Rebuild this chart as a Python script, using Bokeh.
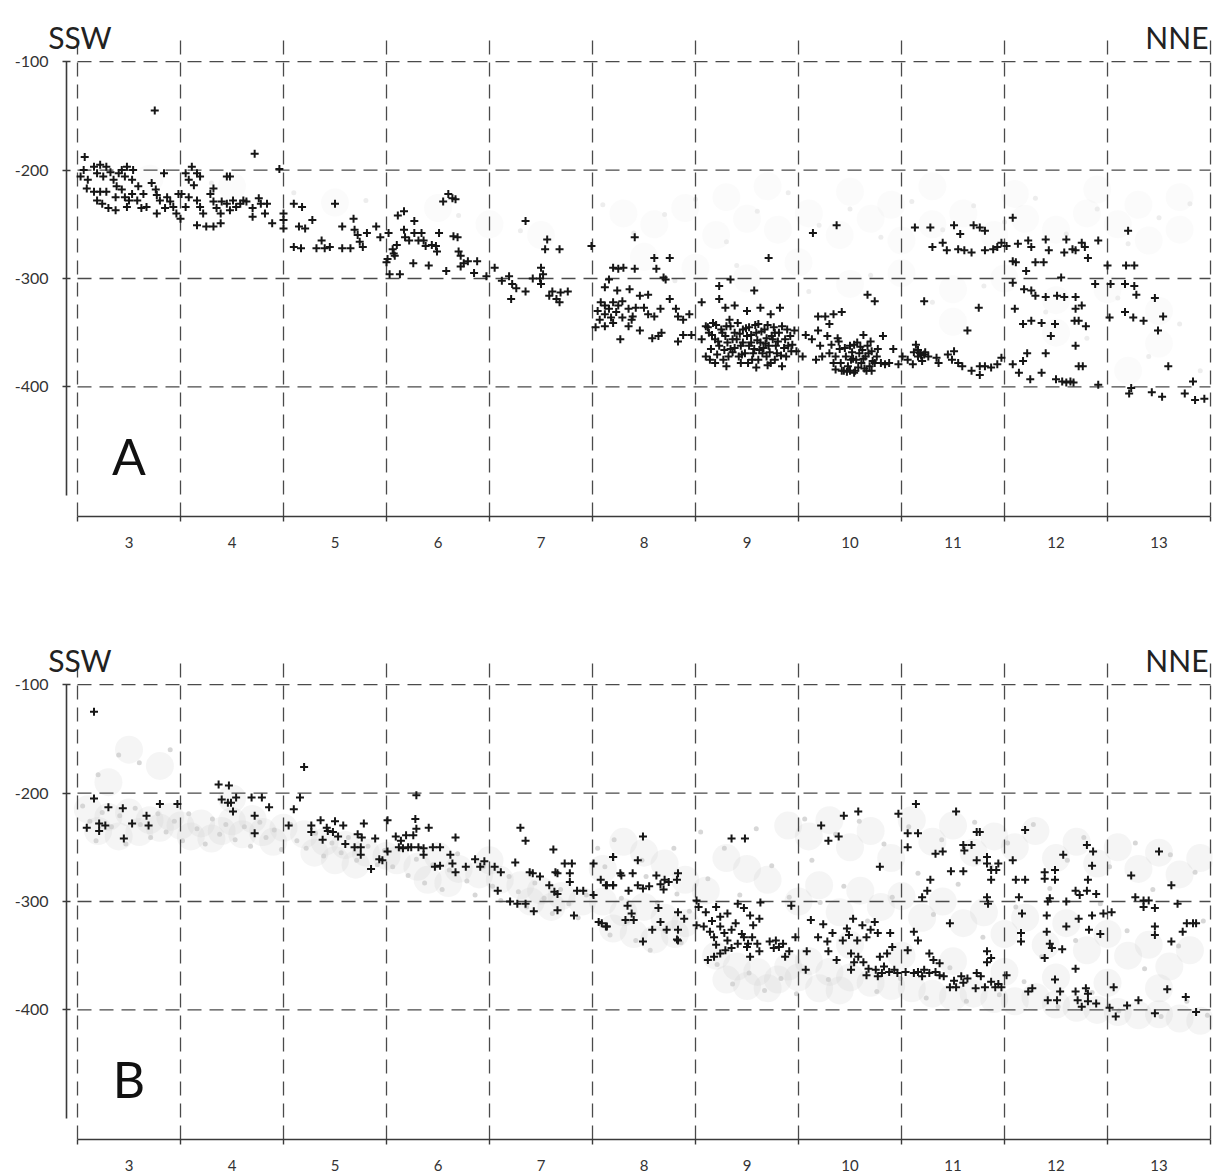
from bokeh.plotting import figure
from bokeh.models import Range1d, FixedTicker, Label
from bokeh.layouts import column
from bokeh.embed import file_html
from bokeh.resources import INLINE

# ---------------- data ----------------
categories = [3, 4, 5, 6, 7, 8, 9, 10, 11, 12, 13]
cat_bounds = [2.5, 3.5, 4.5, 5.5, 6.5, 7.5, 8.5, 9.5, 10.5, 11.5, 12.5, 13.5]
y_ticks = [-100, -200, -300, -400]
y_tick_labels = ["-100", "-200", "-300", "-400"]
panel_letters = ["A", "B"]
left_dir, right_dir = "SSW", "NNE"

# Panel A, black crosses (x position, depth)
pts_a = [
    (3.25, -145), (4.22, -185), (4.46, -199),
    (2.57, -188), (2.53, -206), (2.60, -209), (2.56, -200), (2.66, -197), (2.69, -203), (2.72, -195),
    (2.75, -206), (2.78, -197), (2.82, -202), (2.85, -209), (2.90, -203), (2.93, -200), (2.98, -197),
    (2.96, -206), (3.03, -209), (3.04, -200), (2.59, -217), (2.66, -220), (2.72, -220), (2.78, -220),
    (2.69, -228), (2.74, -231), (2.80, -235), (2.87, -225), (2.88, -215), (2.93, -218), (2.96, -225),
    (3.00, -228), (3.03, -222), (3.08, -228), (3.09, -215), (3.14, -222), (3.17, -234), (3.22, -212),
    (3.26, -218), (3.27, -223), (3.30, -228), (3.34, -203), (3.35, -235), (3.37, -225), (3.40, -229),
    (3.43, -234), (3.46, -240), (3.48, -222), (3.50, -245), (2.87, -237), (3.12, -235), (3.27, -240),
    (2.98, -234),
    (3.55, -203), (3.61, -197), (3.66, -203), (3.69, -206), (3.58, -209), (3.51, -222), (3.58, -225),
    (3.63, -214), (3.66, -228), (3.69, -234), (3.66, -251), (3.75, -252), (3.72, -240), (3.79, -222),
    (3.82, -229), (3.85, -235), (3.89, -240), (3.89, -249), (3.82, -217), (3.90, -229), (3.95, -206),
    (3.98, -206), (3.95, -231), (3.98, -237), (4.01, -228), (4.04, -234), (4.08, -231), (4.11, -228),
    (4.14, -229), (4.20, -235), (4.26, -226), (4.28, -231), (4.32, -240), (4.34, -231), (4.39, -249),
    (4.20, -243), (4.50, -240), (4.50, -246), (4.50, -254), (3.82, -252), (3.55, -234),
    (4.60, -231), (4.68, -234), (4.65, -252), (4.71, -254), (4.78, -246), (4.60, -271), (4.67, -272),
    (4.82, -272), (4.87, -265), (4.90, -272), (4.95, -271), (5.00, -231), (5.07, -252), (5.07, -272),
    (5.15, -272), (5.18, -245), (5.19, -255), (5.22, -260), (5.24, -266), (5.27, -271), (5.31, -258),
    (5.40, -252), (5.44, -262), (5.52, -258), (5.50, -285), (5.57, -277), (5.60, -269),
    (5.51, -282), (5.56, -273), (5.58, -279), (5.61, -242), (5.67, -238), (5.67, -255), (5.68, -262),
    (5.77, -247), (5.77, -258), (5.72, -265), (5.76, -286), (5.81, -265), (5.84, -258), (5.86, -265),
    (5.88, -270), (5.91, -288), (5.94, -269), (5.98, -270), (6.01, -258), (5.99, -275), (6.05, -229),
    (6.10, -222), (6.14, -226), (6.17, -227), (6.08, -293), (6.15, -261), (6.19, -262), (6.20, -275),
    (6.22, -279), (6.22, -289), (6.25, -286), (6.29, -284), (6.38, -284), (6.35, -295), (6.47, -298),
    (5.53, -296), (5.63, -296),
    (6.55, -290), (6.62, -302), (6.69, -298), (6.72, -305), (6.71, -319), (6.76, -309), (6.85, -312),
    (6.85, -247), (6.92, -300), (6.99, -300), (7.00, -290), (7.02, -296), (7.06, -264), (7.04, -273),
    (7.00, -305), (7.08, -316), (7.11, -312), (7.15, -319), (7.18, -273), (7.18, -322), (7.19, -313),
    (7.26, -312), (7.49, -270),
    (7.91, -262), (7.70, -290), (7.75, -291), (7.80, -290), (7.91, -291), (8.10, -281), (8.25, -281),
    (8.12, -291), (8.19, -299), (8.21, -301), (7.66, -301), (7.62, -308), (7.74, -311), (7.86, -310),
    (7.96, -316), (8.04, -315), (7.58, -322), (7.62, -325), (7.66, -328), (7.70, -322), (7.75, -325),
    (7.79, -321), (7.85, -328), (7.89, -335), (7.92, -327), (8.00, -327), (8.04, -333), (8.10, -335),
    (8.16, -328), (8.25, -319), (8.31, -328), (8.33, -335), (8.38, -338), (8.44, -333), (7.62, -344),
    (7.70, -341), (7.77, -356), (7.85, -344), (7.96, -348), (8.08, -355), (8.14, -353), (8.17, -350),
    (8.33, -358), (8.38, -352), (8.46, -352), (7.62, -333), (7.68, -336), (7.73, -331), (7.79, -336),
    (7.88, -338), (7.55, -330), (7.57, -338), (7.53, -345),
    (8.56, -322), (8.73, -307), (8.84, -301), (8.73, -319), (8.79, -327), (8.88, -325), (9.00, -330),
    (9.07, -311), (9.13, -327), (9.23, -333), (9.32, -327), (9.21, -281), (8.60, -344), (8.63, -350),
    (8.67, -341), (8.69, -356), (8.73, -362), (8.75, -347), (8.79, -353), (8.81, -359), (8.83, -338),
    (8.84, -365), (8.88, -350), (8.90, -356), (8.94, -362), (8.96, -347), (8.98, -369), (9.00, -353),
    (9.04, -359), (9.05, -375), (9.07, -365), (9.09, -350), (9.11, -342), (9.13, -359), (9.15, -369),
    (9.17, -347), (9.19, -355), (9.21, -362), (9.23, -378), (9.27, -350), (9.29, -369), (9.30, -358),
    (9.34, -344), (9.36, -364), (9.38, -372), (9.42, -353), (9.44, -361), (9.46, -348), (9.48, -367),
    (8.60, -372), (8.69, -378), (8.77, -375), (8.92, -372), (9.01, -378), (9.11, -375), (9.19, -372),
    (8.65, -365), (8.56, -356), (8.84, -344), (8.96, -359), (9.27, -375), (9.34, -381), (8.86, -368),
    (9.02, -345), (9.16, -364), (9.40, -362), (8.71, -370), (8.94, -378), (9.25, -356),
    (8.62, -345), (8.66, -352), (8.70, -343), (8.72, -358), (8.76, -350), (8.78, -366), (8.80, -344),
    (8.82, -372), (8.86, -356), (8.88, -364), (8.91, -341), (8.93, -351), (8.95, -370), (8.99, -346),
    (9.02, -362), (9.04, -352), (9.06, -369), (9.08, -343), (9.10, -357), (9.12, -366), (9.14, -349),
    (9.18, -360), (9.20, -343), (9.22, -368), (9.24, -353), (9.26, -345), (9.28, -362), (9.31, -350),
    (9.33, -371), (9.37, -356), (9.39, -347), (9.43, -367), (8.64, -375), (8.80, -381), (9.09, -382),
    (9.20, -380),
    (9.64, -258), (9.87, -251), (9.69, -335), (9.76, -335), (9.84, -333), (9.92, -331), (9.80, -342),
    (10.17, -315), (10.24, -321), (9.57, -352), (9.63, -356), (9.69, -348), (9.71, -362), (9.73, -372),
    (9.78, -353), (9.80, -369), (9.84, -378), (9.88, -355), (9.90, -365), (9.92, -385), (9.96, -372),
    (9.98, -381), (10.00, -362), (10.03, -374), (10.05, -385), (10.07, -359), (10.09, -369),
    (10.11, -378), (10.13, -352), (10.15, -372), (10.17, -362), (10.19, -381), (10.21, -367),
    (10.22, -376), (10.26, -372), (10.30, -378), (10.32, -353), (10.34, -379), (10.38, -378),
    (10.42, -365), (10.47, -379), (9.94, -385), (10.00, -385), (9.86, -384), (9.67, -375), (9.54, -372),
    (10.06, -375), (10.12, -366), (10.02, -368), (10.14, -383),
    (9.82, -361), (9.86, -372), (9.89, -358), (9.91, -378), (9.95, -364), (9.97, -386), (10.01, -375),
    (10.04, -361), (10.08, -382), (10.10, -363), (10.13, -374), (10.16, -385), (10.18, -369),
    (10.20, -358), (10.24, -378), (10.27, -365), (10.04, -387), (10.21, -385),
    (10.62, -368), (10.66, -366), (10.69, -371), (10.73, -368), (10.70, -376),
    (10.63, -253), (10.78, -253), (11.01, -251), (11.07, -259), (11.20, -251), (11.26, -253),
    (11.31, -256), (10.80, -271), (10.90, -267), (10.94, -274), (11.05, -273), (11.11, -274),
    (11.18, -276), (11.31, -274), (11.39, -273), (11.43, -271), (11.47, -267), (10.72, -321),
    (11.25, -327), (11.14, -348), (10.51, -372), (10.56, -375), (10.64, -361), (10.66, -372),
    (10.68, -369), (10.72, -370), (10.76, -372), (10.84, -373), (10.95, -370), (10.99, -375),
    (11.01, -367), (11.05, -378), (11.09, -381), (11.18, -385), (11.26, -381), (11.26, -389),
    (11.31, -381), (11.37, -382), (11.43, -379), (11.47, -373), (10.61, -379), (10.86, -378),
    (11.58, -244), (11.52, -270), (11.58, -284), (11.61, -285), (11.63, -268), (11.71, -293),
    (11.73, -265), (11.76, -271), (11.80, -285), (11.88, -285), (11.90, -264), (11.93, -274),
    (12.05, -299), (12.08, -276), (12.10, -264), (12.16, -273), (12.19, -274), (12.25, -267),
    (12.28, -271), (12.31, -281), (12.41, -265), (11.58, -304), (11.69, -310), (11.76, -311),
    (11.80, -316), (11.90, -317), (12.01, -316), (12.08, -317), (12.19, -317), (12.25, -325),
    (12.19, -328), (11.60, -328), (11.68, -342), (11.76, -339), (11.86, -341), (11.99, -342),
    (12.18, -339), (12.22, -339), (12.29, -344), (11.95, -353), (12.19, -362), (11.72, -369),
    (11.90, -369), (11.68, -376), (11.58, -379), (11.64, -387), (11.86, -387), (11.75, -393),
    (12.00, -393), (12.06, -395), (12.10, -396), (12.14, -395), (12.17, -396), (12.26, -381),
    (12.22, -381), (12.41, -398), (12.52, -336), (12.50, -288),
    (12.70, -256), (12.68, -288), (12.76, -288), (12.38, -305), (12.53, -305), (12.67, -305),
    (12.76, -307), (12.78, -315), (12.96, -318), (12.67, -331), (12.75, -336), (12.85, -339),
    (13.04, -335), (12.99, -348), (13.09, -381), (12.71, -406), (12.73, -401), (12.93, -405),
    (13.03, -409), (13.25, -406), (13.33, -395), (13.35, -412), (13.44, -411),
]

# Panel A, faint grey background haze and speckles
gray_a = [
    (7.8, -240), (8.1, -250), (8.4, -235), (8.7, -260), (9.0, -245), (9.3, -255), (9.6, -240),
    (9.9, -260), (10.2, -245), (10.5, -265), (10.8, -250), (11.1, -240), (11.4, -260), (11.7, -245),
    (12.0, -255), (12.3, -240), (12.6, -250), (12.9, -265), (13.2, -255), (8.0, -280), (8.5, -290),
    (9.0, -300), (9.5, -285), (10.0, -305), (10.5, -295), (11.0, -310), (11.5, -300), (12.0, -320),
    (12.5, -310), (13.0, -330), (9.2, -215), (10.0, -220), (10.8, -215), (11.6, -222), (12.4, -218),
    (13.2, -225), (6.0, -235), (6.5, -250), (7.0, -260), (5.0, -230), (4.0, -215), (3.2, -208),
    (11.0, -340), (12.0, -350), (13.0, -360), (12.7, -385), (8.8, -225), (10.4, -232), (12.8, -232),
]
speck_a = [
    (7.6, -232), (7.9, -258), (8.2, -241), (8.5, -227), (8.8, -266), (9.1, -238), (9.4, -221),
    (9.7, -251), (10.0, -236), (10.3, -262), (10.6, -229), (10.9, -255), (11.2, -233), (11.5, -248),
    (11.8, -226), (12.1, -259), (12.4, -236), (12.7, -268), (13.0, -244), (13.3, -231), (8.3, -302),
    (8.9, -288), (9.6, -312), (10.2, -297), (10.8, -322), (11.3, -307), (11.9, -331), (12.6, -318),
    (13.2, -342), (6.2, -242), (6.8, -256), (5.3, -228), (4.6, -221), (3.8, -212), (12.3, -355),
    (12.9, -372), (13.4, -385),
]

# Panel B, black crosses
pts_b = [
    (2.66, -125), (2.66, -205), (2.59, -232), (2.71, -228), (2.71, -235), (2.77, -230), (2.80, -213),
    (2.94, -214), (2.95, -242), (3.03, -228), (3.17, -221), (3.19, -230), (3.30, -210), (3.47, -210),
    (3.87, -192), (3.97, -193), (3.90, -206), (3.96, -209), (3.99, -209), (4.04, -204), (4.01, -217),
    (4.19, -204), (4.29, -204), (4.36, -213), (4.22, -221), (4.22, -237), (4.55, -230), (4.60, -215),
    (4.66, -204), (4.70, -176), (4.77, -230), (4.77, -236), (4.86, -225), (4.88, -243), (4.92, -232),
    (4.93, -235), (5.00, -226), (4.98, -236), (5.03, -240), (5.08, -230), (5.10, -247), (5.22, -238),
    (5.26, -241), (5.25, -250), (5.28, -228), (5.19, -250), (5.25, -257), (5.39, -242), (5.35, -270),
    (5.43, -261), (5.46, -262), (5.51, -225), (5.51, -254), (5.59, -240), (5.62, -250), (5.64, -244),
    (5.66, -251), (5.69, -239), (5.71, -250), (5.74, -250), (5.76, -239), (5.78, -224), (5.79, -202),
    (5.79, -233), (5.81, -250), (5.86, -251), (5.86, -257), (5.91, -232), (5.95, -250), (6.02, -250),
    (5.97, -268), (6.02, -267), (6.12, -257), (6.14, -265), (6.17, -241), (6.17, -273), (6.27, -268),
    (6.36, -261), (6.41, -268), (6.45, -263), (6.55, -268), (6.61, -273), (6.58, -290), (6.75, -264),
    (6.80, -232), (6.85, -244), (6.89, -273), (6.92, -274), (6.99, -277), (7.12, -252), (7.08, -285),
    (7.14, -273), (7.16, -274), (7.13, -291), (7.16, -293), (7.23, -265), (7.30, -265), (7.28, -274),
    (7.28, -282), (7.35, -290), (7.41, -290), (6.70, -300), (6.77, -302), (6.85, -302), (6.93, -309),
    (7.16, -308), (7.32, -313), (7.51, -265), (7.58, -280), (7.63, -285), (7.70, -285), (7.51, -294),
    (7.70, -259), (7.56, -319), (7.63, -323), (7.77, -274),
    (7.99, -240), (7.70, -259), (7.94, -262), (7.78, -276), (7.89, -274), (7.64, -285), (7.70, -285),
    (7.85, -290), (7.94, -285), (7.99, -288), (8.05, -286), (8.12, -276), (8.16, -284), (8.20, -280),
    (8.24, -282), (8.19, -289), (8.33, -274), (8.32, -280), (7.84, -304), (7.88, -311), (7.82, -317),
    (7.90, -317), (7.59, -320), (7.64, -323), (8.14, -306), (8.16, -319), (8.08, -326), (8.22, -326),
    (8.33, -310), (8.33, -326), (8.33, -336), (8.39, -316), (7.99, -337), (8.32, -335),
    (8.85, -242), (8.98, -242), (8.51, -299), (8.53, -305), (8.60, -310), (8.70, -305), (8.74, -314),
    (8.81, -311), (8.91, -302), (8.97, -306), (9.03, -313), (9.12, -316), (9.13, -301), (8.51, -322),
    (8.58, -323), (8.64, -328), (8.68, -333), (8.74, -323), (8.78, -329), (8.81, -336), (8.85, -326),
    (8.89, -320), (8.91, -339), (8.97, -333), (9.01, -339), (9.05, -333), (9.06, -322), (9.10, -339),
    (9.12, -346), (8.70, -340), (8.74, -348), (8.62, -354), (8.68, -351), (8.85, -343), (9.00, -342),
    (9.03, -351), (9.22, -337), (9.28, -336), (9.31, -342), (9.35, -339), (9.37, -351), (9.41, -346),
    (9.47, -333), (9.43, -304), (9.26, -343), (8.79, -345), (8.95, -330), (8.66, -318),
    (9.72, -230), (9.79, -244), (9.89, -240), (9.94, -221), (10.08, -217), (10.29, -268), (10.47, -219),
    (9.58, -346), (9.57, -363), (9.62, -317), (9.69, -333), (9.74, -321), (9.78, -337), (9.79, -346),
    (9.83, -329), (9.87, -354), (9.93, -336), (9.97, -325), (9.99, -331), (10.01, -348), (10.03, -316),
    (10.04, -356), (10.07, -336), (10.08, -351), (10.12, -322), (10.13, -356), (10.16, -333),
    (10.18, -362), (10.20, -326), (10.24, -319), (10.25, -363), (10.27, -329), (10.29, -351),
    (10.31, -366), (10.33, -360), (10.36, -348), (10.38, -365), (10.39, -329), (10.41, -342),
    (10.43, -363), (10.46, -366), (10.01, -363), (10.16, -368), (10.27, -369),
    (10.64, -210), (11.03, -217), (10.56, -237), (10.66, -237), (10.56, -250), (10.83, -256),
    (10.90, -254), (11.10, -248), (11.18, -248), (11.11, -253), (11.23, -236), (11.26, -236),
    (11.23, -262), (11.33, -259), (11.33, -265), (11.37, -271), (11.42, -271), (11.44, -265),
    (11.37, -280), (10.98, -272), (11.10, -272), (10.78, -280), (10.75, -290), (10.70, -296),
    (11.33, -296), (11.34, -302), (10.97, -320), (10.62, -328), (10.66, -336), (10.56, -345),
    (10.77, -348), (10.81, -354), (10.87, -357), (11.33, -346), (11.37, -352), (11.33, -356),
    (10.54, -365), (10.62, -366), (10.66, -365), (10.70, -369), (10.72, -363), (10.77, -366),
    (10.83, -365), (10.87, -368), (10.91, -369), (10.97, -379), (11.01, -373), (11.03, -379),
    (11.08, -369), (11.10, -375), (11.14, -371), (11.22, -380), (11.23, -366), (11.27, -369),
    (11.31, -379), (11.37, -374), (11.41, -379), (11.44, -376), (11.47, -379), (11.52, -368),
    (11.70, -234), (11.58, -262), (11.61, -280), (11.70, -280), (11.89, -273), (11.89, -279),
    (11.99, -271), (11.99, -280), (12.07, -257), (12.30, -248), (12.36, -254), (12.35, -267),
    (12.31, -280), (12.19, -290), (12.23, -294), (12.30, -290), (12.39, -293), (11.64, -296),
    (11.94, -297), (11.92, -300), (12.10, -300), (11.67, -311), (11.91, -313), (12.22, -316),
    (12.35, -313), (12.46, -311), (12.10, -323), (12.32, -326), (12.43, -330), (11.66, -329),
    (11.66, -337), (11.91, -328), (11.94, -339), (11.96, -343), (12.06, -344), (11.89, -352),
    (12.19, -362), (11.99, -372), (11.73, -383), (11.77, -380), (11.92, -391), (12.01, -391),
    (12.04, -383), (12.19, -383), (12.21, -391), (12.29, -380), (12.31, -385), (12.31, -392),
    (12.39, -394), (12.25, -397),
    (12.54, -310), (12.56, -379), (12.52, -398), (12.58, -406), (12.69, -396), (12.73, -276),
    (12.77, -296), (12.85, -299), (12.90, -299), (12.85, -305), (12.96, -306), (13.00, -254),
    (13.12, -285), (13.18, -302), (12.96, -323), (12.96, -331), (13.12, -337), (13.23, -328),
    (13.27, -320), (13.33, -320), (13.36, -320), (12.80, -391), (12.96, -403), (13.08, -381),
    (13.26, -388), (13.36, -402),
]

# Panel B, grey background haze and speckles
gray_b = [
    (2.6, -215), (2.8, -222), (3.0, -218), (3.2, -225), (3.4, -222), (2.7, -235), (2.9, -240),
    (3.1, -236), (3.3, -232), (3.5, -230), (3.7, -228), (3.9, -235), (4.1, -238), (4.3, -236),
    (4.5, -232), (3.6, -240), (3.8, -242), (4.0, -226), (4.2, -224), (4.4, -245), (4.7, -238),
    (4.9, -245), (5.1, -248), (5.3, -255), (5.5, -258), (4.8, -255), (5.0, -262), (5.2, -266),
    (5.6, -262), (5.8, -268), (6.0, -258), (6.2, -270), (6.4, -275), (6.6, -280), (5.9, -280),
    (6.1, -283), (6.5, -262), (6.8, -285), (7.0, -290), (7.2, -295), (7.4, -300), (6.9, -300),
    (7.1, -305), (7.6, -300), (7.8, -310), (8.0, -305), (8.2, -315), (8.4, -320), (7.7, -325),
    (7.9, -330), (8.1, -335), (8.3, -330), (7.8, -245), (8.0, -255), (8.2, -265), (7.6, -270),
    (8.4, -280), (8.6, -290), (8.8, -260), (9.0, -270), (9.2, -280), (8.7, -350), (8.9, -360),
    (9.1, -365), (9.3, -372), (9.5, -370), (8.8, -372), (9.0, -378), (9.2, -380), (9.4, -360),
    (9.6, -355), (9.8, -365), (10.0, -370), (10.2, -375), (10.4, -378), (9.7, -380), (9.9, -382),
    (10.6, -380), (10.8, -385), (11.0, -388), (11.2, -385), (11.4, -390), (11.6, -392), (11.8, -388),
    (12.0, -395), (12.2, -398), (12.4, -400), (12.6, -402), (12.8, -405), (13.0, -404), (13.2, -408),
    (13.4, -410), (9.4, -230), (9.6, -240), (9.8, -225), (10.0, -250), (10.2, -235), (10.4, -260),
    (10.6, -225), (10.8, -245), (11.0, -230), (11.2, -255), (11.4, -240), (11.6, -250), (11.8, -235),
    (12.0, -260), (12.2, -245), (12.4, -265), (12.6, -250), (12.8, -270), (13.0, -255), (13.2, -275),
    (13.4, -260), (9.5, -300), (9.7, -285), (9.9, -310), (10.1, -290), (10.3, -305), (10.5, -295),
    (10.7, -315), (10.9, -300), (11.1, -320), (11.3, -310), (11.5, -330), (11.7, -315), (11.9, -340),
    (12.1, -320), (12.3, -345), (12.5, -330), (12.7, -350), (12.9, -340), (13.1, -360), (13.3, -345),
    (10.0, -340), (10.5, -350), (11.0, -355), (11.5, -365), (12.0, -370), (12.5, -375), (13.0, -380),
    (3.0, -160), (3.3, -175), (2.8, -190), (4.0, -205),
]
speck_b = [
    (2.55, -212), (2.62, -226), (2.68, -244), (2.74, -218), (2.83, -231), (2.91, -221), (2.97, -247),
    (3.06, -214), (3.11, -229), (3.21, -241), (3.28, -219), (3.36, -236), (3.44, -226), (3.52, -244),
    (3.58, -219), (3.66, -233), (3.74, -247), (3.81, -224), (3.88, -238), (3.94, -229), (4.03, -243),
    (4.12, -231), (4.18, -249), (4.27, -227), (4.33, -241), (4.41, -234), (4.48, -252), (4.57, -229),
    (4.63, -244), (4.72, -251), (4.81, -237), (4.89, -258), (4.97, -246), (5.06, -255), (5.13, -241),
    (5.21, -262), (5.32, -249), (5.41, -266), (5.48, -253), (2.9, -165), (3.1, -172), (2.7, -183),
    (3.4, -160),
    (5.56, -268), (5.63, -252), (5.71, -276), (5.79, -261), (5.87, -283), (5.95, -266), (6.04, -289),
    (6.11, -271), (6.19, -256), (6.28, -281), (6.36, -294), (6.44, -268), (6.53, -286), (6.61, -299),
    (6.69, -277), (6.78, -291), (6.86, -305), (6.94, -283), (7.03, -297), (7.11, -311), (7.19, -289),
    (7.27, -302), (7.36, -315), (7.44, -294),
    (7.55, -251), (7.62, -268), (7.71, -243), (7.78, -297), (7.84, -318), (7.92, -336), (7.98, -262),
    (8.06, -345), (8.13, -301), (8.21, -327), (8.29, -251), (8.36, -338), (8.44, -309), (7.67, -331),
    (8.02, -277), (8.32, -293),
    (8.55, -236), (8.62, -279), (8.71, -358), (8.78, -251), (8.86, -376), (8.93, -294), (9.02, -366),
    (9.09, -233), (9.17, -382), (9.24, -267), (9.33, -371), (9.41, -296), (9.48, -385), (9.56, -224),
    (9.63, -262), (9.71, -301), (9.79, -372), (9.86, -238), (9.94, -286), (10.02, -358), (10.09, -226),
    (10.17, -318), (10.26, -383), (10.33, -247), (10.41, -296), (10.49, -371), (10.57, -231),
    (10.66, -274), (10.74, -389), (10.81, -312), (10.89, -243), (10.97, -361), (11.05, -284),
    (11.13, -392), (11.21, -227), (11.29, -333), (11.37, -268), (11.45, -386), (11.53, -246),
    (11.61, -305), (11.69, -374), (11.78, -229), (11.86, -351), (11.94, -288), (12.02, -397),
    (12.11, -262), (12.19, -336), (12.27, -241), (12.35, -384), (12.43, -302), (12.52, -268),
    (12.61, -401), (12.69, -327), (12.77, -246), (12.86, -362), (12.94, -289), (13.02, -406),
    (13.11, -257), (13.19, -341), (13.27, -392), (13.35, -273), (13.43, -318), (13.47, -405),
]

FONT = "Lato"
INK = "#161616"
AXIS = "#3a3a3a"
GRID = "#4a4a4a"
X_LEFT, X_RIGHT, Y_AXIS_X = 1.7524, 13.5193, 2.393
Y_TOP, Y_GRID_TOP, Y_BOTTOM = -51.0, -80.5, -519.5


def make_panel(black, gray, speck, haze_color, haze_alpha, speck_color, letter,
               top_border, bottom_border):
    p = figure(frame_width=1212, frame_height=508,
               x_range=Range1d(X_LEFT, X_RIGHT), y_range=Range1d(Y_BOTTOM, Y_TOP),
               min_border_left=0, min_border_right=5, min_border_top=top_border,
               min_border_bottom=bottom_border,
               output_backend="svg", toolbar_location=None)
    p.outline_line_color = None
    p.background_fill_color = "white"
    p.border_fill_color = "white"
    p.xgrid.grid_line_color = None
    p.ygrid.grid_line_color = None

    # grey background haze + speckles
    p.scatter([q[0] for q in gray], [q[1] for q in gray], marker="circle", size=28,
              fill_color=haze_color, fill_alpha=haze_alpha, line_color=None)
    p.scatter([q[0] for q in speck], [q[1] for q in speck], marker="circle", size=5,
              fill_color=speck_color, fill_alpha=0.8, line_color=None)

    # vertical dashed lines at category boundaries
    n = len(cat_bounds)
    p.segment(x0=cat_bounds, x1=cat_bounds, y0=[Y_GRID_TOP] * n, y1=[Y_BOTTOM] * n,
              line_color=GRID, line_width=1.3, line_dash="14 8")
    # horizontal dashed lines across the category span
    m = len(y_ticks)
    p.segment(x0=[cat_bounds[0]] * m, x1=[cat_bounds[-1]] * m,
              y0=y_ticks, y1=y_ticks, line_color=GRID, line_width=1.3, line_dash="14 8")

    # data crosses
    p.scatter([q[0] for q in black], [q[1] for q in black], marker="cross", size=8,
              line_color=INK, line_width=2.0)

    # x axis
    xa = p.xaxis[0]
    xa.ticker = FixedTicker(ticks=categories, minor_ticks=cat_bounds)
    xa.bounds = (cat_bounds[0], cat_bounds[-1])
    xa.axis_line_color = AXIS
    xa.axis_line_width = 1.6
    xa.major_tick_line_color = None
    xa.major_tick_out = 0
    xa.major_tick_in = 0
    xa.minor_tick_line_color = AXIS
    xa.minor_tick_line_width = 1.4
    xa.minor_tick_out = 5
    xa.minor_tick_in = 0
    xa.major_label_standoff = 15
    xa.major_label_text_font = FONT
    xa.major_label_text_font_size = "15px"
    xa.major_label_text_color = "#333333"

    # y axis, drawn left of the first category boundary
    ya = p.yaxis[0]
    ya.fixed_location = Y_AXIS_X
    ya.ticker = FixedTicker(ticks=y_ticks)
    ya.bounds = (-500, -100)
    ya.major_label_overrides = {t: s for t, s in zip(y_ticks, y_tick_labels)}
    ya.axis_line_color = AXIS
    ya.axis_line_width = 1.6
    ya.major_tick_line_color = AXIS
    ya.major_tick_line_width = 1.4
    ya.major_tick_in = 4
    ya.major_tick_out = 4
    ya.minor_tick_line_color = None
    ya.major_label_standoff = 14
    ya.major_label_text_font = FONT
    ya.major_label_text_font_size = "16px"
    ya.major_label_text_color = "#333333"

    # direction labels
    p.add_layout(Label(x=2.215, y=-77.5, text=left_dir, text_font=FONT,
                       text_font_size="30px", text_color="#222222",
                       text_align="left", text_baseline="alphabetic"))
    p.add_layout(Label(x=13.48, y=-77.5, text=right_dir, text_font=FONT,
                       text_font_size="30px", text_color="#222222",
                       text_align="right", text_baseline="alphabetic"))
    # panel letter
    p.add_layout(Label(x=categories[0], y=-464, text=letter, text_font=FONT,
                       text_font_size="50px", text_color="#111111",
                       text_align="center", text_baseline="alphabetic"))
    return p


pa = make_panel(pts_a, gray_a, speck_a, "#e2e2e2", 0.14, "#e8e8e8", panel_letters[0], 8, 115)
pb = make_panel(pts_b, gray_b, speck_b, "#c8c8c8", 0.18, "#cdcdcd", panel_letters[1], 0, 34)

layout = column(pa, pb, spacing=0)
open("out.html", "w").write(file_html(layout, INLINE))
